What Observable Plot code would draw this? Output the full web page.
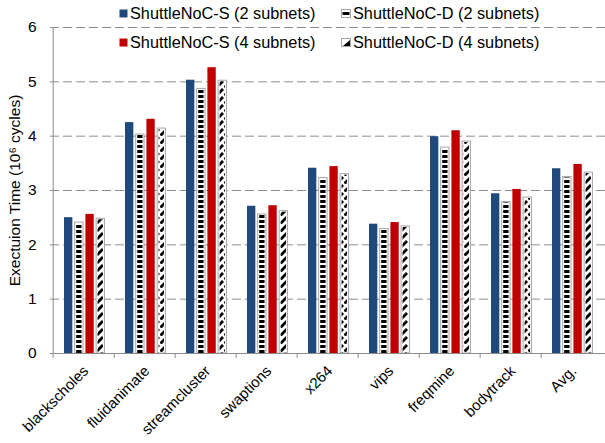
<!DOCTYPE html>
<html>
<head>
<meta charset="utf-8">
<script src="https://cdn.jsdelivr.net/npm/d3@7"></script>
<script src="https://cdn.jsdelivr.net/npm/@observablehq/plot@0.6"></script>
<style>
  body { margin: 0; background: #fff; font-family: "Liberation Sans", Arial, sans-serif; }
  #chart { position: relative; width: 605px; height: 443px; }
  .legend-item { position: absolute; display: flex; align-items: center; font-size: 16.3px; line-height: 16px; color: #000; white-space: nowrap; }
  .legend-item svg { margin-right: 2px; }
</style>
</head>
<body>
<svg width="0" height="0" style="position:absolute">
  <defs>
    <pattern id="hstripe" patternUnits="userSpaceOnUse" width="6" height="5">
      <rect x="0" y="0" width="6" height="3" fill="#000"></rect>
    </pattern>
    <pattern id="dstripe" patternUnits="userSpaceOnUse" width="8" height="8">
      <path d="M0.5,7.5 L7,1" stroke="#000" stroke-width="2.8" stroke-linecap="butt"></path>
    </pattern>
  </defs>
</svg>
<div id="chart"></div>
<script>
// Benchmarks and execution times (10^6 cycles) per configuration
const benchmarks = ["blackscholes", "fluidanimate", "streamcluster", "swaptions", "x264", "vips", "freqmine", "bodytrack", "Avg."];
const seriesNames = ["ShuttleNoC-S (2 subnets)", "ShuttleNoC-D (2 subnets)", "ShuttleNoC-S (4 subnets)", "ShuttleNoC-D (4 subnets)"];
const s2 = [2.50, 4.25, 5.03, 2.71, 3.41, 2.38, 3.99, 2.94, 3.40];
const d2 = [2.41, 4.03, 4.87, 2.56, 3.23, 2.29, 3.79, 2.79, 3.25];
const s4 = [2.56, 4.31, 5.26, 2.72, 3.44, 2.41, 4.10, 3.02, 3.48];
const d4 = [2.48, 4.14, 5.02, 2.62, 3.30, 2.34, 3.90, 2.87, 3.33];
const yTicks = [0, 1, 2, 3, 4, 5, 6];

const W = 605, H = 443, mL = 50, mR = 0, mT = 27, mB = 90;
const step = (W - mL - mR) / benchmarks.length;
const barW = 9;

// place bar k of a group inside its benchmark band
function slot(k, extra = 0) {
  const left = 11 + k * 10.7;
  return {insetLeft: left + extra, insetRight: step - left - barW + extra};
}
const rows = (vals, k) => benchmarks.map((b, j) => ({bench: b, series: seriesNames[k], value: vals[j]}));

const gray = "#8c8c8c";

const chart = Plot.plot({
  width: W, height: H,
  marginLeft: mL, marginRight: mR, marginTop: mT, marginBottom: mB,
  style: {fontFamily: "Liberation Sans, Arial, sans-serif", fontSize: "15px", color: "#000", background: "#fff"},
  x: {domain: benchmarks, padding: 0, axis: null},
  y: {domain: [0, 6], axis: null},
  marks: [
    Plot.gridY(yTicks.filter(t => t > 0), {stroke: gray, strokeOpacity: 1, strokeDasharray: "9,4"}),
    Plot.barY(rows(s2, 0), {x: "bench", y: "value", fill: "#1f497d", ...slot(0)}),
    Plot.barY(rows(d2, 1), {x: "bench", y: "value", fill: "#fff", stroke: "#a6a6a6", ...slot(1)}),
    Plot.barY(rows(d2, 1), {x: "bench", y: "value", fill: "url(#hstripe)", insetTop: 1, ...slot(1, 1.5)}),
    Plot.barY(rows(s4, 2), {x: "bench", y: "value", fill: "#c00000", ...slot(2)}),
    Plot.barY(rows(d4, 3), {x: "bench", y: "value", fill: "#fff", stroke: "#a6a6a6", ...slot(3)}),
    Plot.barY(rows(d4, 3), {x: "bench", y: "value", fill: "url(#dstripe)", insetTop: 1, ...slot(3, 1.5)}),
    Plot.ruleY([0], {stroke: gray}),
    Plot.ruleX([benchmarks[0]], {y1: 0, y2: 6, dx: -step / 2, stroke: gray}),
    Plot.axisX({tickSize: 5, tickFormat: () => "", dx: -step / 2, stroke: gray, label: null}),
    Plot.axisX({tickSize: 0, tickPadding: 15, dx: 2, tickRotate: -45, fontSize: 15, label: null}),
    Plot.axisY({ticks: yTicks, tickFormat: d3.format("d"), tickSize: 0, tickPadding: 14, fontSize: 15.5,
      label: "Exectuion Time (10⁶ cycles)", labelAnchor: "center", labelOffset: 42, labelArrow: "none"})
  ]
});
document.getElementById("chart").appendChild(chart);

// legend overlaid at the top of the plot
const swatches = [
  `<svg width="9" height="9"><rect x="0.5" y="0.5" width="8" height="8" fill="#1f497d"></rect></svg>`,
  `<svg width="10" height="9"><rect x="0.5" y="0.5" width="9" height="8" fill="#fff" stroke="#a6a6a6"></rect><rect x="1.5" y="3" width="7" height="3" fill="#000"></rect></svg>`,
  `<svg width="9" height="9"><rect x="0.5" y="0.5" width="8" height="8" fill="#c00000"></rect></svg>`,
  `<svg width="10" height="9"><rect x="0.5" y="0.5" width="9" height="8" fill="#fff" stroke="#a6a6a6"></rect><path d="M2,8 L9,8 L9,2 Z" fill="#000"></path></svg>`
];
const legendPos = [[119, 5], [341, 5], [119, 34], [341, 34]];
seriesNames.forEach((name, i) => {
  const d = document.createElement("div");
  d.className = "legend-item";
  d.style.left = legendPos[i][0] + "px";
  d.style.top = legendPos[i][1] + "px";
  d.innerHTML = swatches[i] + `<span>${name}</span>`;
  document.getElementById("chart").appendChild(d);
});
</script>
</body>
</html>
